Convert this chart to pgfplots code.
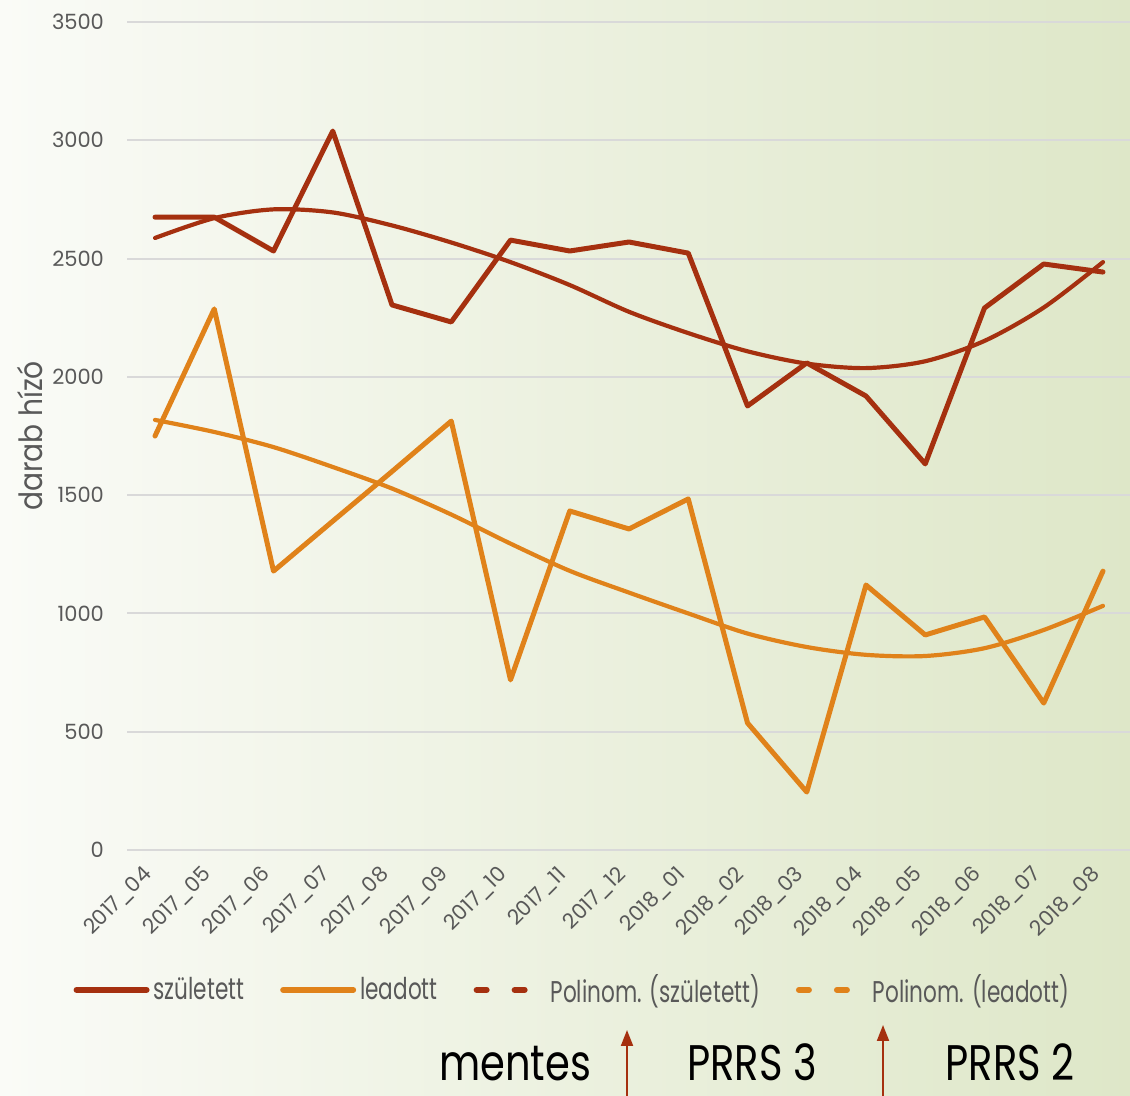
\documentclass[border=0pt]{standalone}
\usepackage{fontspec}
\setmainfont{Poppins}
\newfontfamily\legfont[FakeStretch=0.72]{Poppins}
\newfontfamily\labfont[FakeStretch=0.88]{Poppins}
\newfontfamily\annfont[FakeStretch=0.8]{Poppins}
\usepackage{pgfplots}
\pgfplotsset{compat=1.18}
\usetikzlibrary{arrows.meta}

\definecolor{szul}{RGB}{165,48,15}
\definecolor{lead}{RGB}{224,130,26}
\definecolor{txt}{RGB}{89,89,89}
\definecolor{gridc}{RGB}{217,217,217}
\definecolor{bgL}{RGB}{250,251,247}
\definecolor{bgM}{RGB}{244,247,236}
\definecolor{bgR}{RGB}{222,231,200}

\pgfplotstableread{
x szul lead
0 2675 1750
1 2675 2287
2 2532 1179
3 3039 1390
4 2304 1600
5 2232 1813
6 2578 719
7 2532 1433
8 2570 1357
9 2523 1484
10 1877 537
11 2059 245
12 1919 1120
13 1632 909
14 2291 985
15 2477 621
16 2443 1179
}\datatable

\pgfplotstableread{
x tszul tlead
0 2587 1818
1 2671 1767
2 2708 1703
3 2695 1619
4 2640 1528
5 2568 1418
6 2485 1295
7 2388 1180
8 2275 1088
9 2185 1000
10 2108 915
11 2056 858
12 2037 825
13 2066 820
14 2152 853
15 2293 930
16 2485 1032
}\trendtable

\begin{document}
\begin{tikzpicture}
\useasboundingbox (-63.5pt,-123pt) rectangle (501.5pt,425pt);
\shade[left color=bgL, middle color=bgM, right color=bgR] (-63.5pt,-123pt) rectangle (501.5pt,425pt);
\begin{axis}[
  at={(0,0)}, anchor=south west, scale only axis,
  width=501.5pt, height=414pt,
  xmin=-0.473, xmax=16.456, ymin=0, ymax=3500,
  axis line style={draw=none},
  ymajorgrids, grid style={gridc, line width=1pt},
  major tick length=0pt,
  xtick={0,...,16},
  xticklabels={2017\_04,2017\_05,2017\_06,2017\_07,2017\_08,2017\_09,2017\_10,2017\_11,2017\_12,2018\_01,2018\_02,2018\_03,2018\_04,2018\_05,2018\_06,2018\_07,2018\_08},
  ytick={0,500,...,3500},
  /pgf/number format/assume math mode=true,
  /pgf/number format/set thousands separator={},
  ticklabel style={font=\fontsize{10.5}{12}\selectfont, text=txt},
  yticklabel style={xshift=-8pt},
  xticklabel style={yshift=-8pt, xshift=-1pt, rotate=45, anchor=east},
  every axis y label/.style={at={(axis description cs:-0.0967,0.5)}, rotate=90, anchor=center, font=\labfont\fontsize{16}{18}\selectfont, text=txt},
  ylabel={darab hízó},
  legend columns=4,
  legend style={at={(axis description cs:0.445,-0.169)}, anchor=center, draw=none, fill=none,
    font=\legfont\fontsize{15}{17}\selectfont, text=txt,
    /tikz/every even column/.append style={column sep=16pt}},
  legend cell align=left,
]
\addplot[szul, line width=2.5pt, line join=round, line cap=round,
  legend image code/.code={\draw[szul, line width=3pt, line cap=round] (0pt,0pt)--(35pt,0pt);}]
  table[x=x, y=szul] {\datatable};
\addlegendentry{született}
\addplot[lead, line width=2.5pt, line join=round, line cap=round,
  legend image code/.code={\draw[lead, line width=3pt, line cap=round] (0pt,0pt)--(35pt,0pt);}]
  table[x=x, y=lead] {\datatable};
\addlegendentry{leadott}
\addplot[szul, line width=2.1pt, smooth, line cap=round,
  legend image code/.code={\draw[szul, line width=3pt, line cap=round, dash pattern=on 5pt off 14pt] (0pt,0pt)--(24pt,0pt); \path[draw=none] (0pt,0pt)--(35pt,0pt);}]
  table[x=x, y=tszul] {\trendtable};
\addlegendentry{Polinom. (született)}
\addplot[lead, line width=2.1pt, smooth, line cap=round,
  legend image code/.code={\draw[lead, line width=3pt, line cap=round, dash pattern=on 5pt off 14pt] (0pt,0pt)--(24pt,0pt); \path[draw=none] (0pt,0pt)--(35pt,0pt);}]
  table[x=x, y=tlead] {\trendtable};
\addlegendentry{Polinom. (leadott)}
\end{axis}
\begin{scope}[every node/.style={font=\annfont\fontsize{25}{28}\selectfont, text=black, inner sep=0pt}]
\node at (194pt,-107pt) {mentes};
\node at (312.5pt,-106pt) {PRRS 3};
\node at (441.5pt,-106pt) {PRRS 2};
\end{scope}
\draw[szul, line width=1pt, -{Triangle[length=8pt,width=6pt]}] (250pt,-124pt) -- (250pt,-90pt);
\draw[szul, line width=1pt, -{Triangle[length=8pt,width=6pt]}] (378pt,-124pt) -- (378pt,-87.5pt);
\end{tikzpicture}
\end{document}
